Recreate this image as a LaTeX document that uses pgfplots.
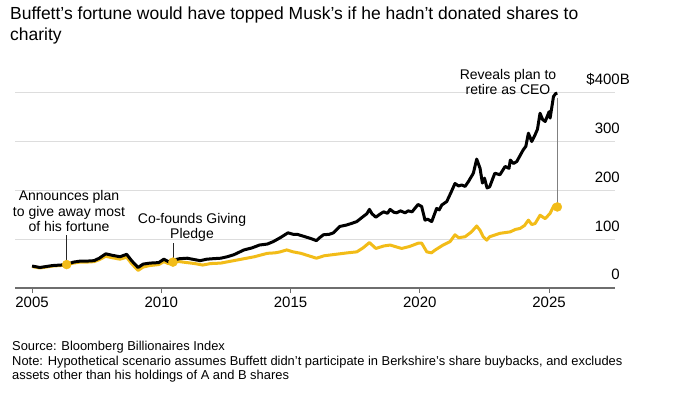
\documentclass[border=0pt]{standalone}
\usepackage{pgfplots}
\pgfplotsset{compat=1.18}
\usepackage{fontspec}
\setmainfont{Liberation Sans}
\definecolor{gold}{RGB}{242,188,24}
\definecolor{gridc}{RGB}{221,221,221}
\definecolor{axc}{RGB}{110,110,110}
\pgfplotstableread{
x y
2005.0 45
2005.3 42
2005.55 44
2005.8 46
2006.1 47
2006.34 48
2006.6 53
2006.85 55
2007.1 55
2007.4 56
2007.6 61
2007.85 70
2008.1 67
2008.4 64
2008.66 69
2008.85 56
2009.1 42
2009.3 49
2009.56 51
2009.9 52
2010.1 59
2010.27 54
2010.45 57
2010.7 60
2011.0 61
2011.3 58
2011.5 56
2011.76 59
2012.0 60
2012.3 61
2012.55 64
2012.8 68
2013.0 73
2013.2 78
2013.5 82
2013.8 88
2014.1 90
2014.33 95
2014.6 103
2014.9 113
2015.1 110
2015.25 110
2015.56 105
2015.8 101
2016.0 97
2016.1 102
2016.27 109
2016.5 110
2016.66 113
2016.9 126
2017.17 129
2017.4 133
2017.56 136
2017.8 146
2017.95 152
2018.05 161
2018.15 152
2018.3 145
2018.45 151
2018.6 156
2018.75 153
2018.85 161
2019.0 155
2019.1 154
2019.25 158
2019.43 154
2019.55 158
2019.7 156
2019.93 171
2020.07 167
2020.2 139
2020.3 141
2020.46 136
2020.65 163
2020.75 160
2020.85 170
2021.04 177
2021.2 195
2021.36 214
2021.5 209
2021.62 211
2021.75 208
2021.88 218
2022.07 235
2022.2 264
2022.33 245
2022.42 215
2022.5 225
2022.6 205
2022.7 207
2022.9 235
2023.1 232
2023.3 249
2023.45 245
2023.5 262
2023.62 255
2023.75 259
2024.0 283
2024.1 290
2024.2 317
2024.33 300
2024.46 314
2024.55 325
2024.65 358
2024.75 345
2024.85 341
2025.0 361
2025.04 348
2025.17 392
2025.25 398
2025.32 399
}\hypo
\pgfplotstableread{
x y
2005.0 44
2005.3 41
2005.55 43
2005.8 45
2006.1 46
2006.34 48
2006.6 51
2006.85 53
2007.1 53
2007.4 54
2007.6 58
2007.85 65
2008.1 62
2008.4 59
2008.66 63
2008.85 50
2009.1 36
2009.3 43
2009.56 46
2009.9 48
2010.1 54
2010.27 50
2010.45 53
2010.7 54
2011.0 52
2011.3 50
2011.6 47
2011.9 50
2012.3 51
2012.6 54
2012.9 57
2013.3 61
2013.6 64
2014.1 71
2014.4 72
2014.6 74
2014.85 78
2015.1 74
2015.4 71
2015.7 66
2016.0 61
2016.3 66
2016.6 68
2016.9 70
2017.2 72
2017.56 74
2017.8 82
2018.05 93
2018.3 81
2018.6 86
2018.85 88
2019.1 84
2019.3 81
2019.6 85
2019.95 92
2020.07 92
2020.27 74
2020.45 72
2020.6 78
2020.9 88
2021.17 95
2021.36 109
2021.5 103
2021.75 105
2022.0 115
2022.2 127
2022.33 118
2022.45 105
2022.59 98
2022.7 105
2023.1 112
2023.5 115
2023.7 120
2023.88 122
2024.05 128
2024.2 139
2024.33 130
2024.46 132
2024.65 149
2024.85 142
2025.04 153
2025.2 170
2025.32 166
}\actual
\begin{document}
\begin{tikzpicture}[x=1pt,y=1pt]
\path[use as bounding box] (0,0) rectangle (691,399);
\begin{axis}[
  at={(15pt,111pt)}, anchor=south west, scale only axis,
  width=600pt, height=200.2pt,
  xmin=2004.34, xmax=2027.55, ymin=0, ymax=410,
  axis x line=bottom, axis y line*=right,
  y axis line style={draw=none},
  x axis line style={-, axc, line width=1.2pt},
  xtick={2005,2010,2015,2020,2025},
  xticklabels={2005,2010,2015,2020,2025},
  xtick style={axc, line width=1pt},
  tick align=outside, major tick length=5pt,
  ytick={0,100,200,300,400},
  yticklabels={0,100,200,300,{\$400\rlap{B}}},
  ytick style={draw=none},
  ymajorgrids, grid style={gridc, line width=0.9pt},
  yticklabel style={anchor=base east, inner sep=0pt, yshift=8pt},
  ticklabel style={font=\fontsize{15}{18}\selectfont},
  clip=false,
]
\addplot[gold, line width=3pt, line join=round] table[x=x,y=y] {\actual};
\addplot[black, line width=3pt, line join=round] table[x=x,y=y] {\hypo};
\draw[black!85, line width=0.9pt] (axis cs:2006.34,108) -- (axis cs:2006.34,50);
\draw[black!85, line width=0.9pt] (axis cs:2010.45,92) -- (axis cs:2010.45,55);
\draw[gray, line width=1.2pt] (axis cs:2025.32,390) -- (axis cs:2025.32,168);
\addplot[only marks, mark=*, mark size=4.5pt, gold, mark options={draw=gold, fill=gold}]
  coordinates {(2006.34,48) (2010.45,53) (2025.32,166)};
\end{axis}
\node[anchor=north west, align=left, inner sep=0pt, font=\fontsize{17.5}{20.5}\selectfont] at (10,392) {Buffett's fortune would have topped Musk's if he hadn't donated shares to\\charity};
\node[align=center, inner sep=0pt, font=\fontsize{14}{15.4}\selectfont] at (69,188) {Announces plan\\to give away most\\of his fortune};
\node[align=center, inner sep=0pt, font=\fontsize{14}{15.4}\selectfont] at (192,171.5) {Co-founds Giving\\Pledge};
\node[align=center, inner sep=0pt, font=\fontsize{14}{15.4}\selectfont] at (508,317) {Reveals plan to\\retire as CEO};
\node[anchor=north west, align=left, inner sep=0pt, font=\fontsize{12.9}{14.5}\selectfont] at (12,58) {Source: Bloomberg Billionaires Index\\Note: Hypothetical scenario assumes Buffett didn't participate in Berkshire's share buybacks, and excludes\\assets other than his holdings of A and B shares};
\end{tikzpicture}
\end{document}
